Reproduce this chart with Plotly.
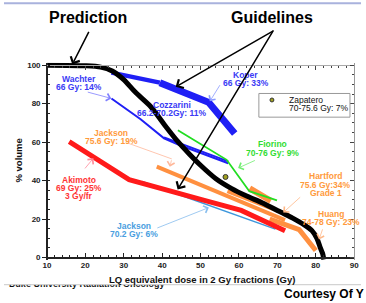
import plotly.graph_objects as go

# ---------------- data ----------------
prediction_dose = [10, 20, 24, 27, 30, 33, 37, 41, 44, 47, 50, 54, 58, 62, 66, 70, 74, 77, 79, 80.3, 81.2, 81.8, 82.1]
prediction_vol = [100, 99.7, 99, 97, 92.5, 86, 78.5, 68, 60.5, 54, 48, 41, 36, 32, 28.5, 24.5, 20.5, 17, 14, 10, 5, 2, -1]

koper_dose = [26.8, 39.4, 52.1, 58.9]
koper_vol = [96.1, 90.9, 80.7, 64.5]

wachter_dose = [26.8, 34.4, 40.5, 44.5, 57.2]
wachter_vol = [82.7, 71.9, 62.0, 58.5, 49.0]

cozzarini_dose = [40.5, 57.2]
cozzarini_vol = [62.5, 50.0]

fiorino_dose = [44.1, 56.8, 62.7, 69.9]
fiorino_vol = [66.2, 50.8, 34.5, 29.7]

jackson756_dose = [38.6, 72.0]
jackson756_vol = [47.3, 19.5]

orange2_dose = [57.0, 73.0]
orange2_vol = [34.5, 22.0]

hartford_dose = [62.8, 68.3]
hartford_vol = [36.0, 29.5]

huang_dose = [68.0, 75.7, 80.0]
huang_vol = [20.0, 14.5, 3.7]

akimoto_dose = [15.8, 31.4, 50.5, 60.6, 72.0]
akimoto_vol = [60.2, 40.5, 30.0, 24.5, 14.0]

jackson702_dose = [34.8, 69.5]
jackson702_vol = [39.5, 14.8]

zapatero_dose = [56.5]
zapatero_vol = [41.9]

x_ticks = [10, 20, 30, 40, 50, 60, 70, 80, 90]
y_ticks = [0, 20, 40, 60, 80, 100]

# ---------------- layout geometry ----------------
W, H = 366, 303
PL, PR, PT, PB = 44, 359, 64, 259          # plot frame in pixels
XR = [10, 90]
YR = [-1.2, 101.2]
PXU = (PB - PT) / 100.0                      # pixels per % unit
FONT = "Liberation Sans, Arial, sans-serif"


def fx(px):
    return px / W


def fy(py):
    return 1 - py / H


y_top_px = PB - YR[1] * PXU
y_bot_px = PB - YR[0] * PXU

BLUE = "#1f1ff5"
BLUE_T = "#3a3af5"
ORANGE = "#ff9040"
ORANGE_T = "#ff9a3c"
RED = "#ff1a1a"
RED_T = "#ff3535"
LBLUE = "#3d97dc"
LBLUE_T = "#4a9ee0"
GREEN = "#22dd22"
GREEN_T = "#33dd33"

fig = go.Figure()


def line(xs, ys, color, width):
    fig.add_trace(go.Scatter(x=xs, y=ys, mode="lines", line=dict(color=color, width=width),
                             hoverinfo="skip", showlegend=False))


line(jackson702_dose, jackson702_vol, LBLUE, 1.5)
line(jackson756_dose, jackson756_vol, ORANGE, 4)
line(orange2_dose, orange2_vol, ORANGE, 4)
line(huang_dose, huang_vol, ORANGE, 5)
line(hartford_dose, hartford_vol, ORANGE, 6)
line(akimoto_dose, akimoto_vol, RED, 5)
line(wachter_dose, wachter_vol, BLUE, 2)
line(cozzarini_dose, cozzarini_vol, BLUE, 2)
line(koper_dose[:2], koper_vol[:2], BLUE, 4.5)
line(koper_dose[1:], koper_vol[1:], BLUE, 7)
line(fiorino_dose, fiorino_vol, GREEN, 1.8)

fig.add_trace(go.Scatter(x=zapatero_dose, y=zapatero_vol, mode="markers",
                         marker=dict(color="#a0a020", size=5, line=dict(color="#333", width=1)),
                         hoverinfo="skip", showlegend=False))

fig.add_trace(go.Scatter(x=prediction_dose, y=prediction_vol, mode="lines",
                         line=dict(color="black", width=5, shape="spline", smoothing=0.8),
                         hoverinfo="skip", showlegend=False))

# dummy trace so the mirrored frame axes exist
fig.add_trace(go.Scatter(x=zapatero_dose, y=zapatero_vol, xaxis="x2", yaxis="y2", mode="markers",
                         marker=dict(opacity=0), hoverinfo="skip", showlegend=False))

# clipped footer text (only its lower half shows)
fig.add_trace(go.Scatter(x=[5], y=[16], xaxis="x3", yaxis="y3", mode="text",
                         text=["<b>Duke University Radiation Oncology</b>"],
                         textposition="middle right", cliponaxis=True,
                         textfont=dict(family=FONT, size=9, color="#111"),
                         hoverinfo="skip", showlegend=False))

annotations = []


def label(text, px, py, color, size=8.5, bold=True, anchor="center"):
    annotations.append(dict(x=fx(px), y=fy(py), xref="paper", yref="paper",
                            text=f"<b>{text}</b>" if bold else text, showarrow=False,
                            font=dict(size=size, color=color, family=FONT),
                            xanchor=anchor, yanchor="middle"))


def arrow(x0, y0, x1, y1, color, width=0.8, head=4, size=1.8):
    annotations.append(dict(x=fx(x1), y=fy(y1), xref="paper", yref="paper",
                            ax=x0 - x1, ay=y0 - y1, axref="pixel", ayref="pixel",
                            text="", showarrow=True, arrowhead=head, arrowsize=size,
                            arrowwidth=width, arrowcolor=color, standoff=0))


# series labels
label("Wachter", 77, 78, BLUE_T)
label("66 Gy: 14%", 77, 86.3, BLUE_T)
label("Cozzarini", 172, 104.3, BLUE_T)
label("66.2-70.2Gy: 11%", 172, 112.3, BLUE_T)
label("Koper", 248, 74, BLUE_T)
label("66 Gy: 33%", 248, 82.3, BLUE_T)
label("Jackson", 110, 132.3, ORANGE_T)
label("75.6 Gy: 19%", 110, 140.7, ORANGE_T)
label("Akimoto", 77, 180, RED_T)
label("69 Gy: 25%", 76.5, 188.3, RED_T)
label("3 Gy/fr", 77, 196.7, RED_T)
label("Jackson", 133.3, 226.7, LBLUE_T)
label("70.2 Gy: 6%", 133.3, 235, LBLUE_T)
label("Fiorino", 275, 144.3, GREEN_T)
label("70-76 Gy: 9%", 275, 152.7, GREEN_T)
label("Hartford", 330, 176.7, ORANGE_T)
label("75.6 Gy:34%", 330, 185, ORANGE_T)
label("Grade 1", 330, 193.3, ORANGE_T)
label("Huang", 335, 215, ORANGE_T)
label("74-78 Gy: 23%", 335, 223.3, ORANGE_T)

# label pointers
arrow(85, 91, 110, 97.7, "#8080ff")
arrow(222, 83, 211, 100.7, "#8a9aff")
arrow(172, 159, 170, 167, "#ffb89a")
arrow(82, 170, 91.7, 158.3, "#ff8a9a")
arrow(157, 229.3, 210, 208.3, "#86bdee")
arrow(258.3, 160, 240, 168.3, "#70ee70")
arrow(304.7, 196.7, 286.3, 213.3, "#ffb888")
arrow(327, 229, 323, 240.7, "#ffb888")

# legend box text
label("Zapatero", 289.7, 99.3, "#111", size=8.5, bold=False, anchor="left")
label("70-75.6 Gy: 7%", 289.7, 107.7, "#111", size=8.5, bold=False, anchor="left")

# axis titles
label("LQ equivalent dose in 2 Gy fractions (Gy)", 203.5, 281.5, "#111", size=9.5)
annotations.append(dict(x=fx(15), y=fy(161), xref="paper", yref="paper", text="<b>% volume</b>",
                        showarrow=False, textangle=-90, font=dict(size=9.5, color="#111", family=FONT),
                        xanchor="center", yanchor="middle"))

# headline callouts
label("Prediction", 86, 16, "#000", size=16)
label("Guidelines", 275, 16, "#000", size=16)
arrow(87.3, 29.3, 70, 63.3, "#000", width=1.5, head=4, size=1.3)
arrow(274.7, 29.3, 176, 86, "#000", width=1.5, head=4, size=1.3)
arrow(274.7, 29.3, 178, 190, "#000", width=1.5, head=4, size=1.3)

# footer
label("Courtesy Of Y", 285, 295.5, "#000", size=12, anchor="left")

shapes = [
    # bent part of the Jackson 75.6 pointer
    dict(type="line", xref="paper", yref="paper", x0=fx(127), y0=fy(143), x1=fx(172), y1=fy(159),
         line=dict(color="#ffb89a", width=0.8)),
    # legend box
    dict(type="rect", xref="paper", yref="paper", x0=fx(261.3), y0=fy(92.7), x1=fx(354.7), y1=fy(116.7),
         line=dict(color="#999", width=1), fillcolor="rgba(255,255,255,0)"),
    dict(type="circle", xref="paper", yref="paper", x0=fx(272.7), y0=fy(97.3), x1=fx(276.7), y1=fy(101.3),
         line=dict(color="#333", width=1), fillcolor="#a0a020"),
    # slide decorations
    dict(type="line", xref="paper", yref="paper", x0=0, x1=1, y0=fy(1.2), y1=fy(1.2),
         line=dict(color="#a9b2dd", width=2)),
    dict(type="line", xref="paper", yref="paper", x0=0, x1=1, y0=fy(286.5), y1=fy(286.5),
         line=dict(color="#c8c8c8", width=1)),
]

tickfont = dict(size=8, family=FONT, color="#222", weight="bold")

fig.update_layout(
    width=W, height=H,
    margin=dict(l=0, r=0, t=0, b=0),
    paper_bgcolor="white", plot_bgcolor="white",
    showlegend=False,
    xaxis=dict(domain=[fx(PL), fx(PR)], range=XR, anchor="free", position=fy(PB),
               tickmode="array", tickvals=x_ticks, ticktext=[str(v) for v in x_ticks],
               ticks="inside", ticklen=4, tickwidth=1, tickcolor="#222",
               showline=True, linecolor="#222", linewidth=1.5, showgrid=False, zeroline=False,
               tickfont=tickfont, fixedrange=True,
               minor=dict(tickmode="linear", tick0=10, dtick=2, ticks="inside", ticklen=2,
                          tickcolor="#222", showgrid=False)),
    yaxis=dict(domain=[fy(y_bot_px), fy(y_top_px)], range=YR, anchor="free", position=fx(PL),
               tickmode="array", tickvals=y_ticks, ticktext=[str(v) for v in y_ticks],
               ticks="outside", ticklen=4, tickwidth=1, tickcolor="#222",
               showline=True, linecolor="#222", linewidth=1.5, showgrid=False, zeroline=False,
               tickfont=tickfont, fixedrange=True,
               minor=dict(tickmode="linear", tick0=0, dtick=5, ticks="inside", ticklen=2,
                          tickcolor="#222", showgrid=False)),
    xaxis2=dict(overlaying="x", anchor="free", position=fy(PT), side="top", range=XR,
                tickmode="array", tickvals=x_ticks, ticks="inside", ticklen=4, tickcolor="#444",
                showticklabels=False, showline=True, linecolor="#aaa", linewidth=1,
                showgrid=False, zeroline=False, fixedrange=True,
                minor=dict(tickmode="linear", tick0=10, dtick=2, ticks="inside", ticklen=2,
                           tickcolor="#444", showgrid=False)),
    yaxis2=dict(overlaying="y", anchor="free", position=fx(PR), side="right", range=YR,
                tickmode="array", tickvals=y_ticks, ticks="inside", ticklen=4, tickcolor="#444",
                showticklabels=False, showline=True, linecolor="#999", linewidth=1,
                showgrid=False, zeroline=False, fixedrange=True,
                minor=dict(tickmode="linear", tick0=0, dtick=5, ticks="inside", ticklen=2,
                           tickcolor="#444", showgrid=False)),
    xaxis3=dict(domain=[0, 1], anchor="y3", range=[0, W], visible=False, fixedrange=True),
    yaxis3=dict(domain=[0, fy(286.5)], anchor="x3", range=[0, H - 286.5], visible=False, fixedrange=True),
    annotations=annotations,
    shapes=shapes,
)

fig.write_html("out.html", config={"displayModeBar": False},
               post_script="document.body.style.margin='0';document.body.style.overflow='hidden';")
